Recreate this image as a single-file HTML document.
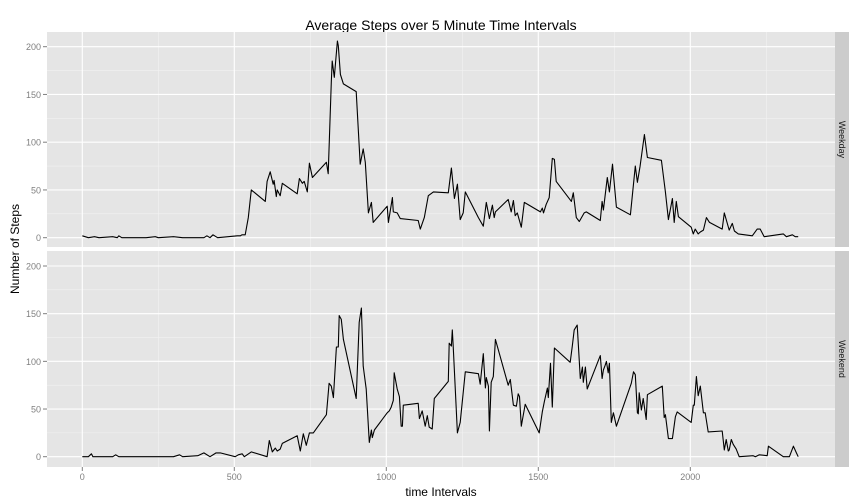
<!DOCTYPE html>
<html><head><meta charset="utf-8"><style>
body{margin:0;background:#fff;}
svg{display:block;font-family:"Liberation Sans",Arial,sans-serif;}
</style></head><body>
<svg id="chart" width="864" height="504" xmlns="http://www.w3.org/2000/svg">
<text x="441" y="30" font-size="14" text-anchor="middle" fill="#000">Average Steps over 5 Minute Time Intervals</text>
<text x="441" y="496" font-size="12" text-anchor="middle" fill="#000">time Intervals</text>
<text transform="translate(19,249) rotate(-90)" font-size="12" text-anchor="middle" fill="#000">Number of Steps</text>
<g id="plots"></g>
</svg>
<script>
const xTicks=[0,500,1000,1500,2000];
const yTicks=[0,50,100,150,200];
const panelNames=["Weekday","Weekend"];
const weekdayX=[0,20,40,55,100,115,120,130,210,240,250,300,330,400,410,420,430,445,510,520,525,531,536,546,556,602,608,618,628,631,638,641,651,658,707,714,724,730,740,747,757,803,809,819,822,829,839,842,849,859,901,914,924,931,941,951,957,1003,1007,1020,1023,1036,1046,1105,1112,1125,1138,1155,1204,1214,1224,1234,1243,1253,1260,1303,1319,1329,1339,1349,1355,1359,1401,1411,1418,1424,1431,1444,1454,1507,1513,1517,1526,1536,1546,1553,1559,1609,1615,1625,1635,1651,1658,1704,1710,1714,1727,1734,1744,1757,1803,1819,1826,1835,1849,1859,1905,1918,1928,1941,1947,1954,1961,2003,2010,2016,2026,2033,2043,2053,2063,2105,2112,2128,2138,2145,2158,2204,2220,2230,2243,2306,2316,2336,2345,2355];
const weekdayY=[2,0,1,0,1,0,2,0,0,1,0,1,0,0,2,0,3,0,2,2,3,3,3,21,50,38,59,69,56,60,43,50,44,57,46,62,57,59,48,78,63,79,67,163,185,168,206,201,171,161,153,77,93,79,26,37,16,33,16,42,27,26,20,18,9,21,44,48,47,73,41,56,19,26,48,21,12,37,20,34,21,27,40,27,39,23,26,11,37,27,31,26,35,42,83,82,59,38,47,21,17,26,27,18,38,29,63,48,77,32,24,75,58,75,108,84,81,48,19,41,16,38,22,11,4,9,4,6,8,21,16,9,26,8,15,7,4,2,9,9,1,4,1,3,1,1];
const weekendX=[0,20,30,35,100,110,120,200,300,320,330,380,400,420,440,454,503,513,526,533,556,608,615,625,635,641,651,658,707,717,727,737,747,760,803,812,819,826,836,842,845,852,859,901,911,918,924,934,944,951,954,961,1003,1010,1016,1023,1026,1036,1043,1049,1053,1056,1105,1109,1118,1128,1135,1141,1151,1158,1204,1207,1214,1217,1220,1234,1243,1260,1303,1309,1319,1326,1329,1336,1339,1345,1352,1359,1401,1408,1418,1428,1434,1438,1444,1457,1503,1513,1520,1530,1533,1540,1546,1553,1605,1612,1618,1628,1638,1645,1648,1655,1661,1704,1710,1714,1720,1724,1730,1734,1740,1747,1757,1806,1813,1819,1826,1829,1832,1839,1845,1855,1859,1908,1914,1918,1928,1941,1951,1957,2003,2010,2013,2020,2026,2033,2043,2049,2059,2105,2112,2118,2125,2128,2135,2141,2151,2161,2207,2214,2227,2253,2257,2306,2326,2339,2349,2355];
const weekendY=[0,0,3,0,0,2,0,0,0,2,0,1,4,0,4,4,0,2,3,0,5,0,17,5,9,6,8,14,22,6,24,12,25,25,44,77,74,62,115,115,148,144,123,61,141,156,95,71,15,28,20,28,46,48,52,59,88,71,63,32,32,54,56,40,48,32,43,31,29,61,79,119,116,133,116,25,36,89,87,76,108,72,83,74,27,78,84,123,75,81,54,53,66,63,32,55,25,47,58,72,62,98,52,114,99,116,133,138,82,94,78,94,71,106,82,91,96,100,88,98,36,46,32,77,89,86,46,45,67,49,61,39,65,74,41,44,19,19,42,47,36,54,54,84,64,74,46,46,26,27,7,18,6,7,18,13,8,0,1,0,2,1,11,0,0,11,4,0];

const NS="http://www.w3.org/2000/svg";
const g=document.getElementById('plots');
const L=47,R=835,SR=849;
const xScale=v=>82.3+(v-0)*(690.3-82.3)/2000;
const panels=[{top:32,bot:247,y0:237.7,y200:46.7,xs:weekdayX,ys:weekdayY},{top:251,bot:467,y0:456.7,y200:266,xs:weekendX,ys:weekendY}];
function mk(tag,attrs){const e=document.createElementNS(NS,tag);for(const k in attrs)e.setAttribute(k,attrs[k]);return e;}
panels.forEach((p,i)=>{
  const yScale=v=>p.y0+(p.y200-p.y0)*v/200;
  const bg=mk('rect',{x:L,y:p.top,width:R-L,height:p.bot-p.top,fill:'#e5e5e5'});
  
  
  g.appendChild(bg);
  // minor grid
  for(let k=0;k<xTicks.length;k++){const mv=xTicks[k]+250;const mx=xScale(mv);if(mx<R){const m=mk('line',{x1:mx,x2:mx,y1:p.top,y2:p.bot,stroke:'#f2f2f2','stroke-width':0.6});g.appendChild(m);}}
  for(let k=0;k<yTicks.length-1;k++){const my=yScale(yTicks[k]+25);const m=mk('line',{x1:L,x2:R,y1:my,y2:my,stroke:'#f2f2f2','stroke-width':0.6});g.appendChild(m);}
  const my2=yScale(-20);
  xTicks.forEach(t=>{const x=xScale(t);const l=mk('line',{x1:x,x2:x,y1:p.top,y2:p.bot,stroke:'#fff','stroke-width':1.1});
    
    
    g.appendChild(l);});
  yTicks.forEach(t=>{const y=yScale(t);const l=mk('line',{x1:L,x2:R,y1:y,y2:y,stroke:'#fff','stroke-width':1.1});
    
    
    g.appendChild(l);
    const tk=mk('line',{x1:L-4,x2:L,y1:y,y2:y,stroke:'#7f7f7f','stroke-width':1});g.appendChild(tk);
    const tx=mk('text',{x:L-6,y:y+3.5,'font-size':9,'text-anchor':'end',fill:'#7f7f7f'});tx.textContent=t;
    
    
    g.appendChild(tx);});
  const st=mk('rect',{x:R,y:p.top,width:SR-R,height:p.bot-p.top,fill:'#cccccc'});
  
  
  g.appendChild(st);
  const stx=mk('text',{transform:`translate(${R+4},${(p.top+p.bot)/2}) rotate(90)`,'font-size':9,'text-anchor':'middle',fill:'#1a1a1a'});
  stx.textContent=panelNames[i];
  
  
  g.appendChild(stx);
  let d='';p.xs.forEach((v,j)=>{d+=(j?'L':'M')+xScale(v).toFixed(1)+','+yScale(p.ys[j]).toFixed(1);});
  const path=mk('path',{d:d,fill:'none',stroke:'#000','stroke-width':1.1,'stroke-linejoin':'round'});
  
  
  g.appendChild(path);
});
xTicks.forEach(t=>{const x=xScale(t);
  const tk=mk('line',{x1:x,x2:x,y1:467,y2:471,stroke:'#7f7f7f','stroke-width':1});g.appendChild(tk);
  const tx=mk('text',{x:x,y:480,'font-size':9,'text-anchor':'middle',fill:'#7f7f7f'});tx.textContent=t;
  
  
  g.appendChild(tx);});
</script>
</body></html>
